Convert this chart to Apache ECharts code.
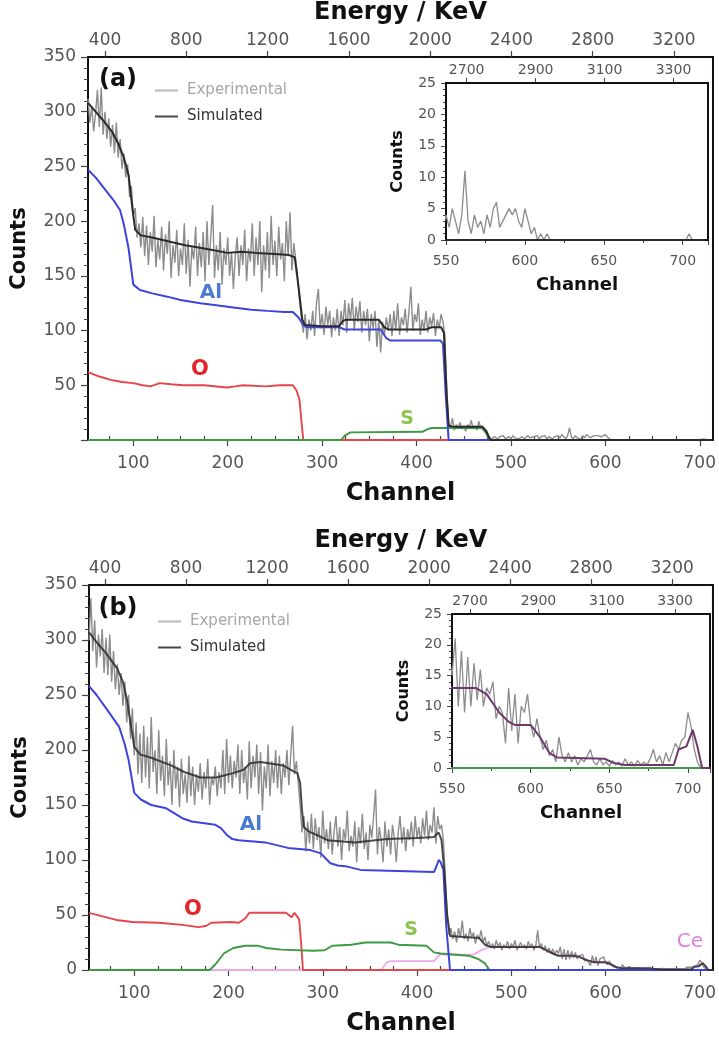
<!DOCTYPE html>
<html>
<head>
<meta charset="utf-8">
<script src="https://cdn.jsdelivr.net/npm/echarts@6/dist/echarts.min.js"></script>
<style>
  html, body { margin: 0; padding: 0; background: #fff; }
  #chart { width: 719px; height: 1041px; }
</style>
</head>
<body>
<div id="chart"></div>
<script>
// ---- measured spectra: one count value every EXP_STEP channels, starting at EXP_START ----
const EXP_START = 52, EXP_STEP = 2;

// (a) experimental counts, channels 52..712
const expA = [
  312,290,305,282,298,320,286,322,279,300,
  275,294,268,288,262,290,258,275,248,262,
  240,252,222,232,205,212,185,198,176,204,
  168,196,160,190,172,205,158,183,165,195,
  155,188,170,200,148,178,162,192,150,175,
  160,198,152,183,140,176,165,195,150,180,
  158,190,145,200,160,185,215,148,178,155,
  190,142,175,160,185,150,172,138,168,185,
  150,178,160,192,145,175,163,198,150,185,
  160,200,135,178,155,190,148,205,160,182,
  150,195,165,180,145,200,168,208,155,180,
  165,150,128,112,98,115,92,110,100,118,
  95,125,138,102,115,96,122,105,118,94,
  112,100,120,95,118,105,128,98,125,110,
  130,100,122,108,127,98,118,105,120,90,
  115,102,118,85,110,80,108,96,112,100,
  115,95,118,100,125,96,112,105,120,98,
  118,140,100,115,108,125,96,110,100,118,
  98,112,104,116,95,110,102,115,108,95,
  45,15,12,20,9,14,11,16,10,13,
  8,14,12,18,10,13,9,17,11,12,
  8,6,3,2,1,3,2,1,3,2,
  4,1,2,3,1,4,2,3,1,2,
  3,1,2,4,2,1,3,2,4,1,
  3,2,4,1,3,2,1,3,2,4,
  2,5,3,1,4,11,3,1,4,2,
  3,1,4,2,5,6,2,3,4,5,
  4,5,3,2,5,3,1,2,0,1,
  0,1,0,0,0,0,0,0,0,0,
  0,0,0,0,0,0,0,0,0,0,
  0,0,0,0,0,0,0,0,0,0,
  0,0,0,0,0,0,0,0,0,0,
  0,0,0,0,0,0,1,0,0,0,
  0
];

// (b) experimental counts, channels 52..712
const expB = [
  300,338,290,318,275,305,285,310,270,302,
  268,305,262,290,255,278,250,270,240,262,
  225,250,210,238,195,225,178,215,170,222,
  175,212,165,230,180,200,160,218,172,195,
  158,210,168,190,150,200,165,185,148,192,
  160,178,152,195,158,185,150,178,162,188,
  155,180,165,192,150,175,168,185,158,180,
  165,200,160,210,170,195,165,190,175,205,
  160,200,170,185,155,208,165,195,175,205,
  160,198,145,185,165,205,158,190,170,200,
  165,195,160,188,175,200,168,195,222,178,
  190,170,150,125,140,108,135,115,142,110,
  138,118,130,102,145,115,128,110,135,105,
  125,140,112,130,100,128,118,145,108,122,
  112,135,98,130,115,142,110,125,100,132,
  120,140,164,105,130,118,98,135,112,128,
  105,132,120,98,125,140,115,130,108,128,
  118,135,112,140,120,130,115,138,122,145,
  118,132,125,148,115,140,128,132,118,85,
  50,32,38,28,35,25,38,30,45,28,
  33,26,38,30,34,24,32,28,36,25,
  30,22,26,20,24,19,27,21,25,18,
  23,20,26,19,24,21,27,18,22,25,
  20,23,19,26,21,24,18,22,36,20,
  24,18,22,16,20,15,19,14,18,15,
  21,10,19,9,18,10,17,11,16,10,
  13,12,14,8,10,9,4,13,6,12,
  4,10,9,12,7,5,8,5,3,4.5,
  2,3,1,5,2,1,2.5,1,2,0.5,
  1.5,1,2,3,1,0.5,1.5,0.5,1,0.3,
  1.2,0.5,1,0.3,1.5,0.5,1,0.3,1.2,0.5,
  1,0.5,1.5,3,1,2,0.5,2.5,1,2.5,
  4,3,4.5,5,9,6.7,3,1,0,0,
  0
];

// ---- simulated spectra [channel, counts] ----
const simA = [[52,308],[60,300],[70,290],[78,281],[84,271],[90,258],[95,242],[99,212],[102,192],[108,187],[120,185],[140,181],[155,178],[175,175],[200,171],[215,172],[230,171],[250,170],[265,169],[271,167],[275,140],[279,110],[282,105],[300,104],[318,104],[322,109],[326,110],[360,110],[366,103],[370,101],[410,101],[416,103],[426,103],[429,98],[432,40],[434,13],[440,12],[470,12],[474,8],[478,0],[714,0]];
const alA = [[52,247],[60,240],[70,229],[80,218],[86,210],[90,197],[95,175],[100,142],[107,137],[120,134],[136,131],[150,128],[171,125],[190,123],[206,121],[225,119],[242,118],[260,117],[269,117],[275,112],[280,105],[284,103],[318,103],[324,101],[362,101],[368,93],[372,91],[425,91],[428,88],[431,40],[434,0],[714,0]];
const oA = [[52,62],[64,58],[76,55],[88,53],[100,52],[110,50],[118,49],[128,52],[140,51],[153,50],[175,50],[199,48],[208,49],[216,50],[240,49],[255,50],[269,50],[273,45],[276,37],[278,18],[280,0],[714,0]];
const sA = [[52,0],[320,0],[324,4],[330,7],[406,7.5],[412,10],[416,11],[470,11],[474,6],[477,0],[714,0]];

const simHeadB = [[52,307],[60,298],[70,288],[82,274],[88,262],[92,247],[96,225],[100,203],[106,196],[118,193],[139,186],[153,180],[170,175],[187,175],[205,179],[216,182],[223,188],[234,189],[258,186],[268,181],[273,179],[276,170],[278,145],[280,130],[285,126],[298,121],[305,118],[334,116],[368,119],[400,120],[418,121],[423,125],[426,118],[429,90],[432,50],[435,31],[450,30],[466,29],[472,23],[478,21]];
// above channel 478 only Ce contributes, so the total and the Ce curve coincide
const tailB = [[500,21],[530,21],[537,18],[544,15],[550,13],[565,13],[572,12],[580,9],[586,7.5],[590,7],[600,7],[606,5],[612,2.4],[617,1.7],[647,1.5],[653,0.8],[660,0.5],[691,0.5],[694,3],[699,3.5],[703,6.2],[706,3.5],[709,0],[714,0]];
const ceHeadB = [[52,0],[362,0],[368,7],[372,8],[418,8],[424,14],[460,14],[468,18],[474,20],[478,21]];
const alB = [[52,258],[60,250],[70,238],[84,221],[90,205],[94,191],[100,161],[107,155],[118,150],[134,147],[151,138],[161,135],[186,132],[192,129],[198,123],[204,119],[211,118],[239,116],[263,111],[287,109],[298,106],[308,97],[316,95],[326,94],[340,91],[418,89],[421,95],[423,100],[425,98],[428,91],[431,40],[435,0],[714,0]];
const oB = [[52,52],[81,45.5],[98,43.6],[126,43],[151,41],[168,39],[176,40],[182,43],[203,43.6],[211,43],[218,47],[222,52],[261,52],[263,53],[267,48],[270,52],[272,52],[275,46],[277,25],[279,0],[714,0]];
const sB = [[52,0],[180,0],[186,5],[195,15],[205,20],[218,22],[232,22],[240,20],[256,18.5],[290,17.5],[302,18],[310,22],[330,23],[345,25],[372,25],[380,23],[410,22],[418,16],[425,15],[455,13],[465,10],[472,6],[477,0],[714,0]];

// ---- tick labels ----
const channelTicks = [100, 200, 300, 400, 500, 600, 700];
const channelMinorTicks = [75,125,150,175,225,250,275,325,350,375,425,450,475,525,550,575,625,650,675];
const energyTicks = [400, 800, 1200, 1600, 2000, 2400, 2800, 3200];
const insetEnergyTicks = [2700, 2900, 3100, 3300];

const simB = simHeadB.concat(tailB);
const ceB = ceHeadB.concat(tailB);
const spectrum = arr => arr.map((v, i) => [EXP_START + EXP_STEP * i, v]);

const FONT = 'DejaVu Sans';
const LABEL = '#555';
const TICK = '#444';
const plain = v => String(v);

function titleStyle(size) {
  return { fontFamily: FONT, fontSize: size, fontWeight: 'bold', color: '#111' };
}

// bottom channel axis of a main panel (labels + outward ticks)
function mainChannel(gi, name) {
  return {
    type: 'value', gridIndex: gi, position: 'bottom', min: 52, max: 714,
    name: name, nameLocation: 'middle', nameGap: 42, nameTextStyle: titleStyle(24),
    axisLine: { show: false }, splitLine: { show: false },
    axisTick: { show: true, customValues: channelTicks, length: 6, lineStyle: { color: TICK, width: 1.2 } },
    axisLabel: { customValues: channelTicks, formatter: plain, fontFamily: FONT, fontSize: 17, color: LABEL, margin: 15 }
  };
}
// companion axis carrying the small inner ticks between labelled channels
function mainChannelMinor(gi) {
  return {
    type: 'value', gridIndex: gi, position: 'bottom', min: 52, max: 714,
    axisLine: { show: false }, splitLine: { show: false },
    axisTick: { show: true, inside: true, customValues: channelMinorTicks, length: 4, lineStyle: { color: TICK, width: 1.2 } },
    axisLabel: { show: false }
  };
}
function mainEnergy(gi, min, max) {
  return {
    type: 'value', gridIndex: gi, position: 'top', min: min, max: max,
    name: 'Energy / KeV', nameLocation: 'middle', nameGap: 32, nameTextStyle: titleStyle(24),
    axisLine: { show: false }, splitLine: { show: false },
    axisTick: { show: true, customValues: energyTicks, length: 6, lineStyle: { color: TICK, width: 1.2 } },
    axisLabel: { customValues: energyTicks, formatter: plain, fontFamily: FONT, fontSize: 17, color: LABEL, margin: 8 }
  };
}
function insetChannel(gi, max) {
  return {
    type: 'value', gridIndex: gi, position: 'bottom', min: 550, max: max, interval: 50,
    name: 'Channel', nameLocation: 'middle', nameGap: 36, nameTextStyle: titleStyle(18),
    axisLine: { show: false }, splitLine: { show: false },
    axisTick: { show: true, length: 5, lineStyle: { color: TICK } },
    minorTick: { show: true, splitNumber: 2, length: 3, lineStyle: { color: TICK } },
    axisLabel: { formatter: plain, fontFamily: FONT, fontSize: 14, color: LABEL, margin: 14, showMaxLabel: false }
  };
}
function insetEnergy(gi, min, max) {
  return {
    type: 'value', gridIndex: gi, position: 'top', min: min, max: max,
    axisLine: { show: false }, splitLine: { show: false },
    axisTick: { show: true, customValues: insetEnergyTicks, length: 5, lineStyle: { color: TICK } },
    axisLabel: { customValues: insetEnergyTicks, formatter: plain, fontFamily: FONT, fontSize: 14, color: LABEL, margin: 6 }
  };
}
function mainCounts(gi, hideZero) {
  return {
    type: 'value', gridIndex: gi, min: 0, max: 350, interval: 50,
    name: 'Counts', nameLocation: 'middle', nameGap: 58, nameRotate: 90, nameTextStyle: titleStyle(21),
    axisLine: { show: false }, splitLine: { show: false },
    axisTick: { show: true, length: 7, lineStyle: { color: TICK, width: 1.2 } },
    minorTick: { show: true, splitNumber: 5, length: 4, lineStyle: { color: TICK } },
    axisLabel: { fontFamily: FONT, fontSize: 17, color: LABEL, margin: 12,
                 formatter: v => (hideZero && v === 0) ? '' : String(v) }
  };
}
function insetCounts(gi) {
  return {
    type: 'value', gridIndex: gi, min: 0, max: 25, interval: 5,
    name: 'Counts', nameLocation: 'middle', nameGap: 40, nameRotate: 90, nameTextStyle: titleStyle(16),
    axisLine: { show: false }, splitLine: { show: false },
    axisTick: { show: true, length: 5, lineStyle: { color: TICK } },
    minorTick: { show: true, splitNumber: 5, length: 3, lineStyle: { color: TICK } },
    axisLabel: { formatter: plain, fontFamily: FONT, fontSize: 14, color: LABEL, margin: 10 }
  };
}

function line(name, data, xi, yi, color, width, z, opacity) {
  return {
    type: 'line', name: name, data: data, xAxisIndex: xi, yAxisIndex: yi,
    symbol: 'none', showSymbol: false, silent: true, animation: false, clip: true,
    lineStyle: { color: color, width: width, opacity: opacity == null ? 1 : opacity },
    itemStyle: { color: color }, z: z
  };
}

const GRAY = '#8c8c8c', BLACK = '#2a2a2a', BLUE = '#3d44dc', RED = '#e5454b',
      GREEN = '#3d9a42', PINK = '#f0a8ea', PURPLE = '#6f3a6b';

function legendAt(left, top) {
  return {
    orient: 'vertical', left: left, top: top, icon: 'rect', itemWidth: 23, itemHeight: 2,
    itemGap: 9, selectedMode: false,
    textStyle: { fontFamily: FONT, fontSize: 15, lineHeight: 17, padding: [0, 0, 0, 4] },
    data: [
      { name: 'Experimental', itemStyle: { color: '#b8b8b8' }, textStyle: { color: '#a6a6a6' } },
      { name: 'Simulated', itemStyle: { color: '#474747' }, textStyle: { color: '#333' } }
    ]
  };
}

function label(text, x, y, color, size, weight) {
  return {
    type: 'text', x: x, y: y, silent: true,
    style: { text: text, fill: color, font: (weight || 'bold') + ' ' + size + 'px "' + FONT + '"',
             align: 'center', verticalAlign: 'middle' }
  };
}

const option = {
  animation: false,
  backgroundColor: '#fff',
  textStyle: { fontFamily: FONT },
  grid: [
    { left: 88, top: 57, width: 625, height: 383, show: true, borderColor: '#111', borderWidth: 2, backgroundColor: 'transparent' },
    { left: 446, top: 83, width: 262, height: 157, show: true, borderColor: '#111', borderWidth: 2, backgroundColor: '#fff', z: 3 },
    { left: 89, top: 585, width: 627, height: 385, show: true, borderColor: '#111', borderWidth: 2, backgroundColor: 'transparent' },
    { left: 452, top: 614, width: 258, height: 154, show: true, borderColor: '#111', borderWidth: 2, backgroundColor: '#fff', z: 3 }
  ],
  xAxis: [
    mainChannel(0, 'Channel'),          // 0
    mainChannelMinor(0),                // 1
    mainEnergy(0, 316, 3392),           // 2
    insetChannel(1, 716),               // 3
    insetEnergy(1, 2640, 3400),         // 4
    mainChannel(2, 'Channel'),          // 5
    mainChannelMinor(2),                // 6
    mainEnergy(2, 321, 3401),           // 7
    insetChannel(3, 714),               // 8
    insetEnergy(3, 2647, 3402)          // 9
  ],
  yAxis: [
    mainCounts(0, true),
    insetCounts(1),
    mainCounts(2, false),
    insetCounts(3)
  ],
  legend: [legendAt(150, 77), legendAt(153, 608)],
  graphic: [
    label('(a)', 118, 80, '#111', 24),
    label('(b)', 118, 609, '#111', 24),
    label('Al', 211, 293, '#4a7bd2', 20),
    label('O', 200, 370, '#e3262c', 21),
    label('S', 407, 419, '#8cc44e', 19),
    label('Al', 251, 825, '#4a7bd2', 20),
    label('O', 193, 910, '#e3262c', 21),
    label('S', 411, 930, '#8cc44e', 19),
    label('Ce', 690, 942, '#e27de2', 20, 'normal'),
    label('Ce', 665, 719, '#e27de2', 19, 'normal')
  ],
  series: [
    // panel (a)
    line('Experimental', spectrum(expA), 0, 0, GRAY, 1.4, 2),
    line('O', oA, 0, 0, RED, 1.9, 3),
    line('S', sA, 0, 0, GREEN, 1.9, 3),
    line('Al', alA, 0, 0, BLUE, 2, 4),
    line('Simulated', simA, 0, 0, BLACK, 2, 5),
    // panel (a) inset
    line('Experimental', spectrum(expA), 3, 1, GRAY, 1.3, 6),
    line('Simulated', simA, 3, 1, BLACK, 1.8, 7),
    // panel (b)
    line('Experimental', spectrum(expB), 5, 2, GRAY, 1.4, 2),
    line('Ce', ceB, 5, 2, PINK, 1.8, 3),
    line('O', oB, 5, 2, RED, 1.9, 3),
    line('S', sB, 5, 2, GREEN, 1.9, 3),
    line('Al', alB, 5, 2, BLUE, 2, 4),
    line('Simulated', simB, 5, 2, BLACK, 2, 5, 0.85),
    // panel (b) inset
    line('Experimental', spectrum(expB), 8, 3, GRAY, 1.3, 6),
    line('S', sB, 8, 3, GREEN, 1.8, 7),
    line('Simulated', simB, 8, 3, PURPLE, 2, 8)
  ]
};

const chart = echarts.init(document.getElementById('chart'), null, { renderer: 'canvas' });
chart.setOption(option);
</script>
</body>
</html>
